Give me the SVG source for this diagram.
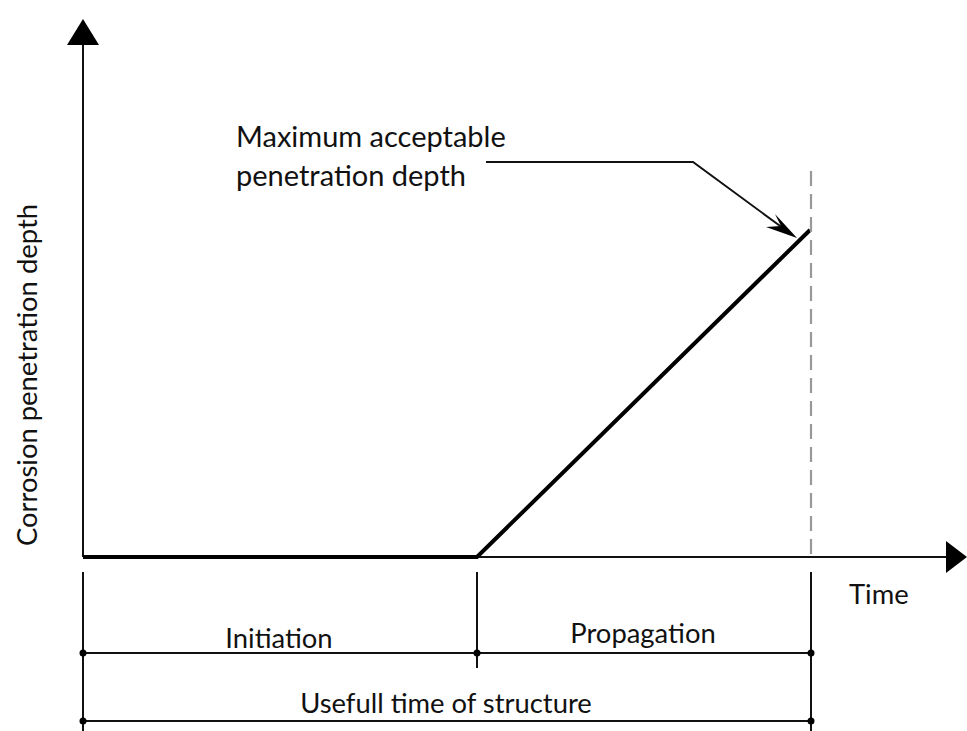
<svg xmlns="http://www.w3.org/2000/svg" width="967" height="731" viewBox="0 0 967 731">
<style>
text{font-family:Lato,"Liberation Sans",sans-serif;fill:#111;}
.lbl{font-size:27.4px;}
.big{font-size:29px;}
.ax{stroke:#111;stroke-width:2;fill:none;}
.br{stroke:#111;stroke-width:2;fill:none;}
.curve{stroke:#000;stroke-width:4;fill:none;stroke-linejoin:miter;}
.dash{stroke:#999;stroke-width:2.2;stroke-dasharray:15 8;fill:none;}
.dot{fill:#000;}
</style>
<rect width="967" height="731" fill="#fff"/>
<g id="axes">
<line class="ax" x1="83" y1="557" x2="83" y2="42"/>
<polygon points="83,19 67,45 99,45" fill="#000"/>
<line class="ax" x1="83" y1="557" x2="948" y2="557"/>
<polygon points="967,557 946,541 946,573" fill="#000"/>
</g>
<g id="y-label">
<text class="lbl" transform="translate(37,375) rotate(-90)" text-anchor="middle">Corrosion penetration depth</text>
</g>
<g id="x-label">
<text class="lbl" x="849" y="604">Time</text>
</g>
<g id="curve">
<polyline class="curve" points="83,557 477,557 810,230"/>
</g>
<g id="limit">
<line class="dash" x1="811" y1="171" x2="811" y2="557"/>
</g>
<g id="annotation">
<text class="big" x="236" y="147">Maximum acceptable</text>
<text class="big" x="236" y="186">penetration depth</text>
</g>
<g id="connectors">
<polyline class="br" points="486,162 693,162 787,231"/>
<polygon points="797,238 766,227 781,226 775,214" fill="#000"/>
</g>
<g id="brackets">
<line class="br" x1="83" y1="572" x2="83" y2="731"/>
<line class="br" x1="477" y1="572" x2="477" y2="668"/>
<line class="br" x1="811" y1="572" x2="811" y2="731"/>
<line class="br" x1="83" y1="653" x2="811" y2="653"/>
<line class="br" x1="83" y1="721" x2="811" y2="721"/>
<circle class="dot" cx="83" cy="653" r="3.5"/>
<circle class="dot" cx="477" cy="653" r="3.5"/>
<circle class="dot" cx="811" cy="653" r="3.5"/>
<circle class="dot" cx="83" cy="721" r="3.5"/>
<circle class="dot" cx="811" cy="721" r="3.5"/>
</g>
<g id="initiation">
<text class="lbl" x="279" y="648" text-anchor="middle">Initiation</text>
</g>
<g id="propagation">
<text class="lbl" x="643" y="643" text-anchor="middle">Propagation</text>
</g>
<g id="useful">
<text class="lbl" x="446" y="713" text-anchor="middle">Usefull time of structure</text>
</g>
</svg>
